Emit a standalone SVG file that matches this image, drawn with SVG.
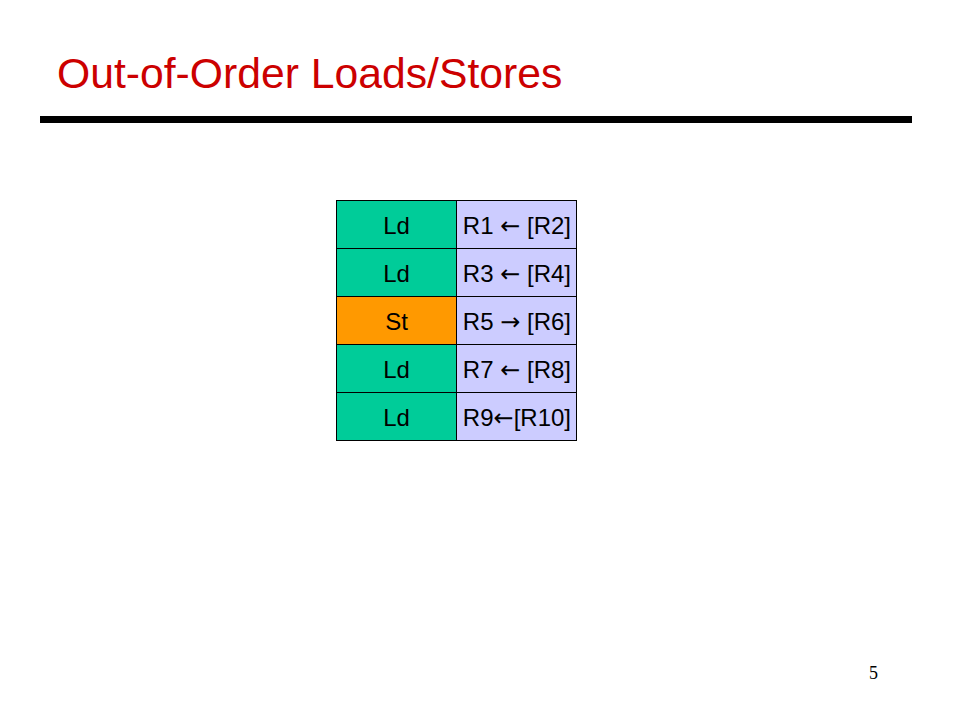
<svg xmlns="http://www.w3.org/2000/svg" width="960" height="720" viewBox="0 0 960 720">
<style>
.ld{fill:#00CC99;stroke:#000;stroke-width:1}
.st{fill:#FF9900;stroke:#000;stroke-width:1}
.op{fill:#CCCCFF;stroke:#000;stroke-width:1}
.t{font-family:"Liberation Sans",Arial,sans-serif;font-size:24px;fill:#000}
.a{font-family:"DejaVu Sans",sans-serif;font-size:24px}
</style>
<rect width="960" height="720" fill="#fff"/>
<text x="57" y="88" font-family="Liberation Sans, Arial, sans-serif" font-size="42.7" fill="#CC0000">Out-of-Order Loads/Stores</text>
<rect x="40" y="116" width="872" height="7" fill="#000"/>
<g id="row1">
<rect class="ld" x="336.5" y="200.5" width="120" height="48"/>
<rect class="op" x="456.5" y="200.5" width="120" height="48"/>
<text class="t" x="396.5" y="234" text-anchor="middle">Ld</text>
<text class="t" x="571" y="234" text-anchor="end">R1 <tspan class="a">←</tspan> [R2]</text>
</g>
<g id="row2">
<rect class="ld" x="336.5" y="248.5" width="120" height="48"/>
<rect class="op" x="456.5" y="248.5" width="120" height="48"/>
<text class="t" x="396.5" y="282" text-anchor="middle">Ld</text>
<text class="t" x="571" y="282" text-anchor="end">R3 <tspan class="a">←</tspan> [R4]</text>
</g>
<g id="row3">
<rect class="st" x="336.5" y="296.5" width="120" height="48"/>
<rect class="op" x="456.5" y="296.5" width="120" height="48"/>
<text class="t" x="396.5" y="330" text-anchor="middle">St</text>
<text class="t" x="571" y="330" text-anchor="end">R5 <tspan class="a">→</tspan> [R6]</text>
</g>
<g id="row4">
<rect class="ld" x="336.5" y="344.5" width="120" height="48"/>
<rect class="op" x="456.5" y="344.5" width="120" height="48"/>
<text class="t" x="396.5" y="378" text-anchor="middle">Ld</text>
<text class="t" x="571" y="378" text-anchor="end">R7 <tspan class="a">←</tspan> [R8]</text>
</g>
<g id="row5">
<rect class="ld" x="336.5" y="392.5" width="120" height="48"/>
<rect class="op" x="456.5" y="392.5" width="120" height="48"/>
<text class="t" x="396.5" y="426" text-anchor="middle">Ld</text>
<text class="t" x="571" y="426" text-anchor="end">R9<tspan class="a">←</tspan>[R10]</text>
</g>
<g id="connectors"></g>
<text x="869" y="679" font-family="Liberation Serif, serif" font-size="18" fill="#000">5</text>
</svg>
